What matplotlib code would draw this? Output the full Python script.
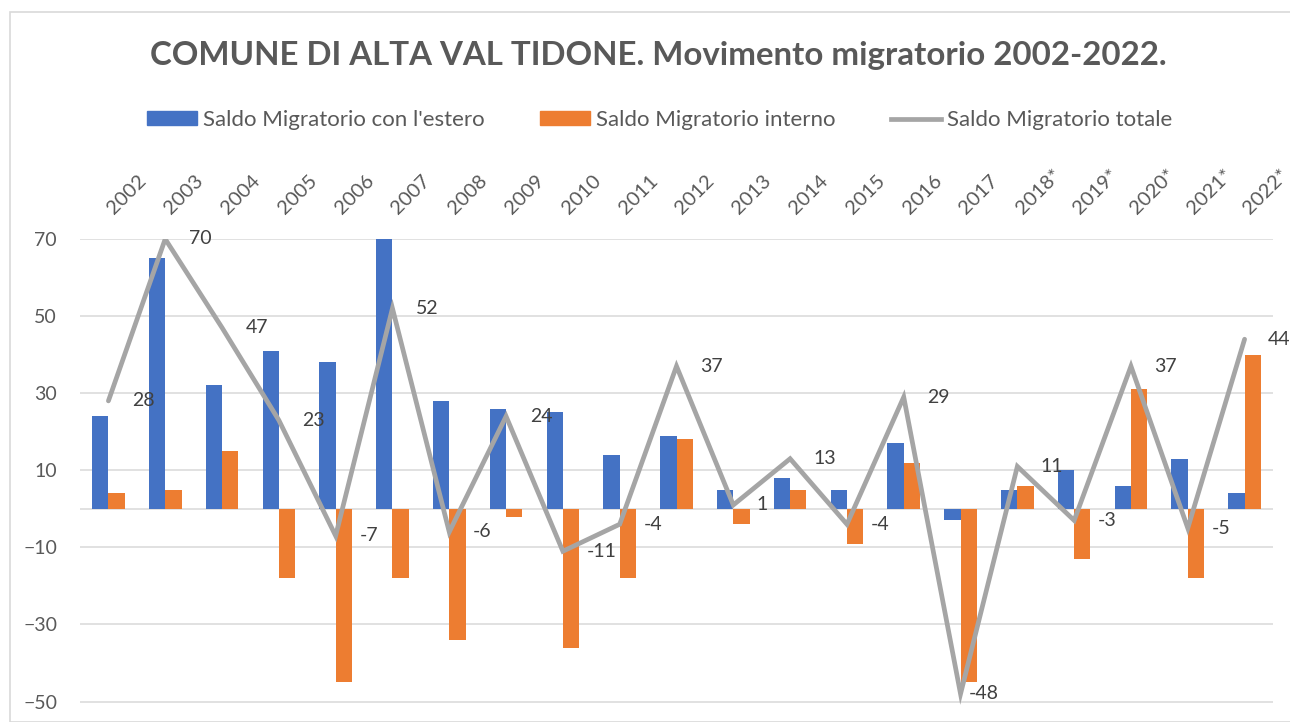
import numpy as np
import matplotlib
matplotlib.use("Agg")
import matplotlib.pyplot as plt
from matplotlib.patches import Rectangle
from matplotlib.lines import Line2D
from matplotlib.transforms import ScaledTranslation

# dati
anni = ["2002", "2003", "2004", "2005", "2006", "2007", "2008", "2009", "2010", "2011",
        "2012", "2013", "2014", "2015", "2016", "2017", "2018*", "2019*", "2020*", "2021*", "2022*"]
saldo_estero = [24, 65, 32, 41, 38, 70, 28, 26, 25, 14, 19, 5, 8, 5, 17, -3, 5, 10, 6, 13, 4]
saldo_interno = [4, 5, 15, -18, -45, -18, -34, -2, -36, -18, 18, -4, 5, -9, 12, -45, 6, -13, 31, -18, 40]
saldo_totale = [28, 70, 47, 23, -7, 52, -6, 24, -11, -4, 37, 1, 13, -4, 29, -48, 11, -3, 37, -5, 44]

titolo = "COMUNE DI ALTA VAL TIDONE. Movimento migratorio 2002-2022."
etichette = ["Saldo Migratorio con l'estero", "Saldo Migratorio interno", "Saldo Migratorio totale"]

BLU = "#4472C4"
ARANCIO = "#ED7D31"
GRIGIO = "#A5A5A5"
TESTO = "#595959"
GRIGLIA = "#D9D9D9"

plt.rcParams["font.family"] = ["Lato", "DejaVu Sans"]

W, H = 1290, 722
fig = plt.figure(figsize=(W / 100, H / 100), dpi=100)

# bordo del grafico
fig.patches.append(Rectangle((10 / W, 0), 1.2, (H - 12) / H, transform=fig.transFigure,
                             fill=False, edgecolor=GRIGLIA, linewidth=1.2))

ax = fig.add_axes([80 / W, 0.0, (1273 - 80) / W, (722 - 239) / H])

x = np.arange(len(anni))
w = 0.287
ax.bar(x - w / 2, saldo_estero, width=w, color=BLU, zorder=2)
ax.bar(x + w / 2, saldo_interno, width=w, color=ARANCIO, zorder=2)
ax.plot(x, saldo_totale, color=GRIGIO, linewidth=3.4, zorder=3,
        solid_joinstyle="miter", solid_capstyle="round")

# etichette a destra del punto (quella del 2017 è più vicina alla linea)
for i, (xi, v) in enumerate(zip(x, saldo_totale)):
    dx = 6 if anni[i] == "2017" else 17
    ax.annotate(str(v), (xi, v), xytext=(dx, 0), textcoords="offset points",
                ha="left", va="center", fontsize=14, color="#404040", zorder=4,
                annotation_clip=False)

ax.set_xlim(-0.5, len(anni) - 0.5)
ax.set_ylim(-55.3, 70)
ax.set_yticks(np.arange(-50, 71, 20))
ax.yaxis.grid(True, color=GRIGLIA, linewidth=1.1, zorder=0)
ax.axhline(0, color=GRIGLIA, linewidth=1.1, zorder=1)
for s in ax.spines.values():
    s.set_visible(False)

ax.tick_params(axis="y", length=0, pad=16.5, labelsize=14, labelcolor=TESTO)
ax.xaxis.tick_top()
ax.set_xticks(x)
ax.set_xticklabels(anni, rotation=45, ha="left", rotation_mode="anchor")
ax.tick_params(axis="x", length=0, pad=16, labelsize=14.5, labelcolor=TESTO)
sposta = ScaledTranslation(8 / 100, 0, fig.dpi_scale_trans)
for lbl in ax.get_xticklabels():
    lbl.set_transform(lbl.get_transform() + sposta)

fig.text(658 / W, 1 - 56 / H, titolo, ha="center", va="center", fontsize=23.8,
         fontweight="bold", color=TESTO)

handles = [Rectangle((0, 0), 1, 1, color=BLU), Rectangle((0, 0), 1, 1, color=ARANCIO),
           Line2D([], [], color=GRIGIO, linewidth=3.4)]
fig.legend(handles, etichette, loc="center", bbox_to_anchor=(660 / W, 1 - 120 / H), ncol=3,
           frameon=False, fontsize=16, labelcolor=TESTO, handlelength=2.25, handleheight=0.6,
           handletextpad=0.27, columnspacing=2.5)

fig.savefig("out.png", dpi=100)
